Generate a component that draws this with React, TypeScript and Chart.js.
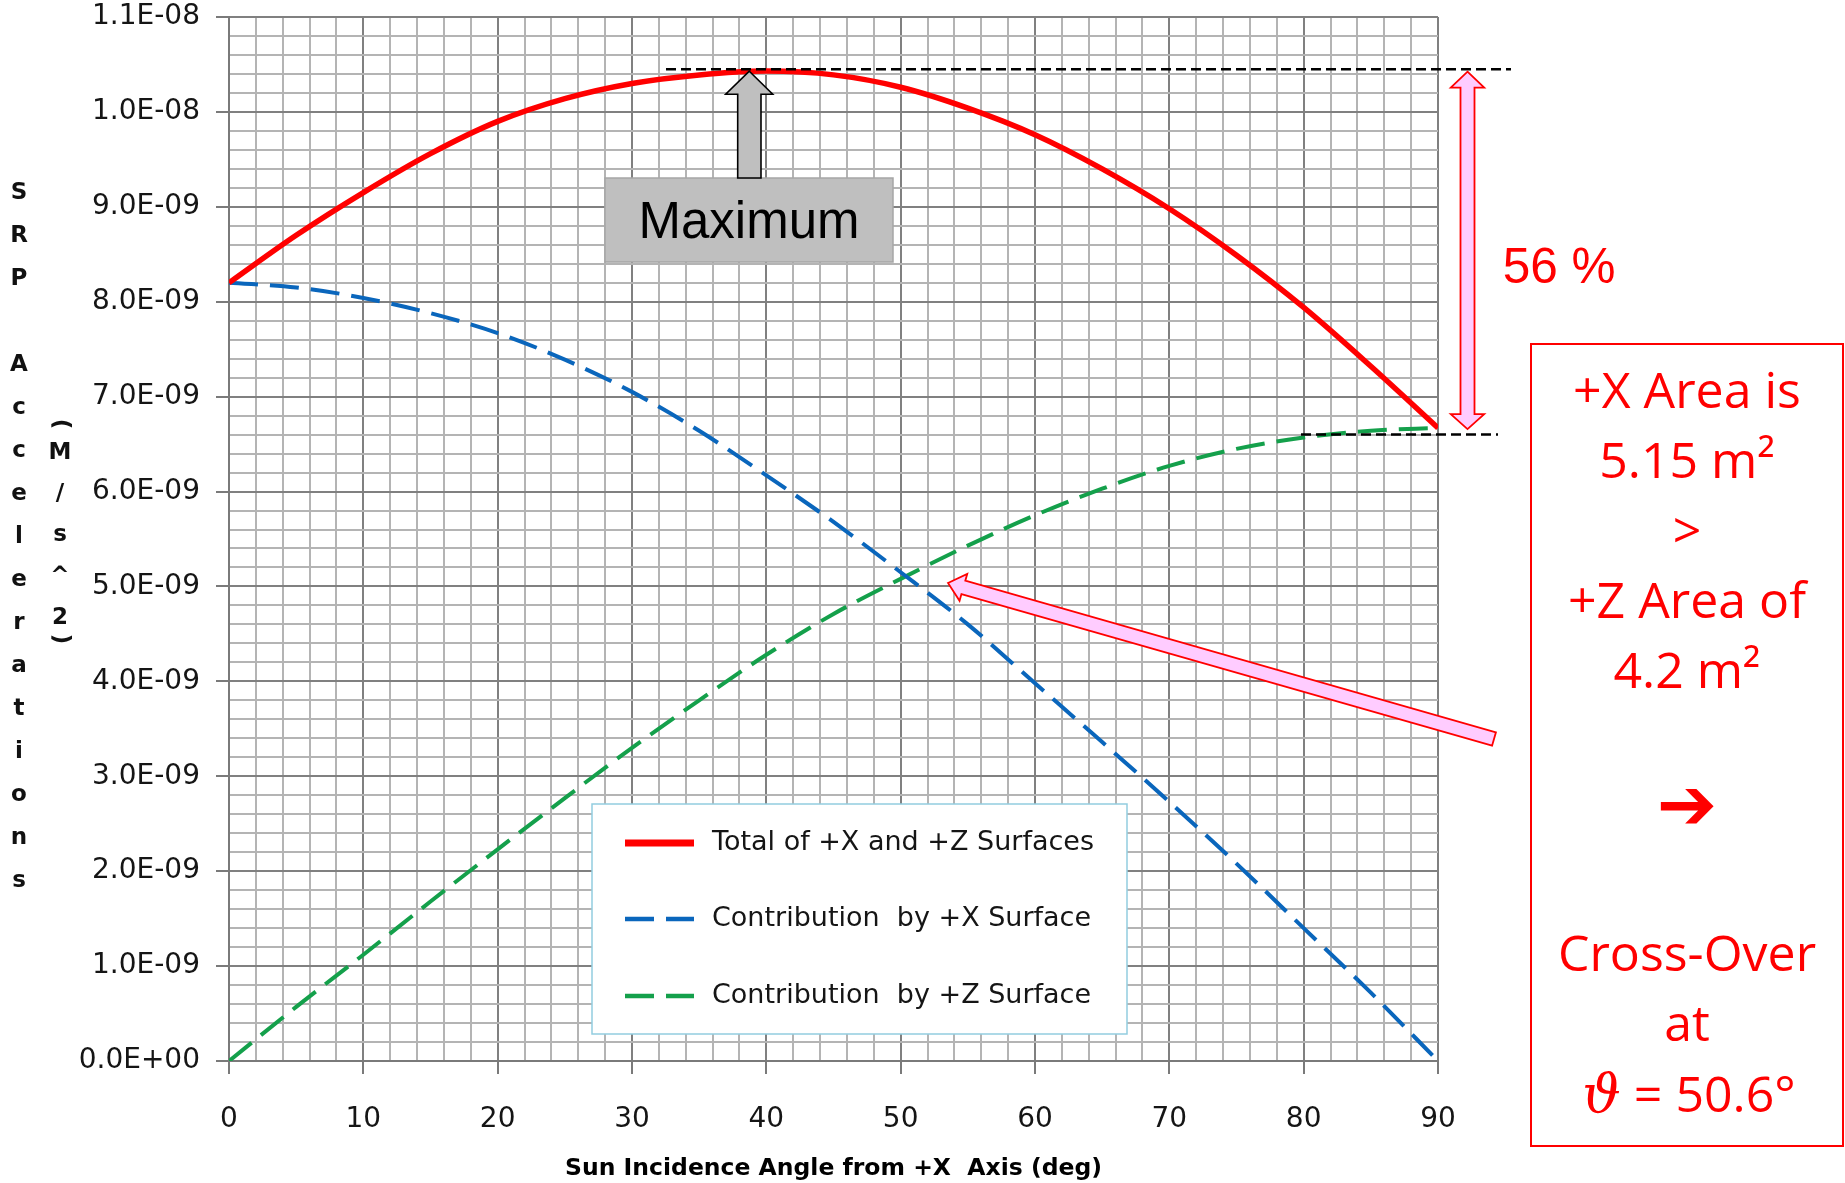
import React, { useEffect, useRef } from 'react';
import { Chart, registerables } from 'chart.js';

Chart.register(...registerables);

// ---------------- data (values in units of 1E-09 m/s^2) ----------------
const ANGLES_DEG = [0, 5, 10, 15, 20, 25, 30, 35, 40, 45, 50, 55, 60, 65, 70, 75, 80, 85, 90];
const TOTAL_E9 = [8.2, 8.7, 9.15, 9.56, 9.9, 10.14, 10.3, 10.39, 10.43, 10.39, 10.26, 10.04, 9.76, 9.4, 8.98, 8.49, 7.94, 7.32, 6.67];
const PLUS_X_E9 = [8.2, 8.15, 8.04, 7.88, 7.67, 7.39, 7.05, 6.64, 6.17, 5.68, 5.15, 4.6, 3.98, 3.36, 2.73, 2.08, 1.4, 0.72, 0.0];
const PLUS_Z_E9 = [0.0, 0.57, 1.12, 1.68, 2.23, 2.77, 3.3, 3.8, 4.28, 4.71, 5.08, 5.43, 5.75, 6.03, 6.27, 6.45, 6.57, 6.64, 6.67];
const E9 = 1e-9;

const SERIES_LABELS = ['Total of +X and +Z Surfaces', 'Contribution  by +X Surface', 'Contribution  by +Z Surface'];

// axis ticks
const X_MAJOR_TICKS = [0, 10, 20, 30, 40, 50, 60, 70, 80, 90];
const X_MINOR_PER_MAJOR = 5; // minor grid every 2 deg
const Y_MAJOR_TICKS_E9 = [0, 1, 2, 3, 4, 5, 6, 7, 8, 9, 10, 11];
const Y_MINOR_PER_MAJOR = 5; // minor grid every 0.2E-09

const X_TITLE = 'Sun Incidence Angle from +X  Axis (deg)';
const Y_TITLE_MAIN = 'SRP Accelerations';
const Y_TITLE_UNITS = ['M', '/', 's', '^', '2'];

// annotation values
const MAX_LINE_E9 = 10.45;
const MIN_LINE_E9 = 6.6;
const PERCENT_TEXT = '56 %';
const MAX_TEXT = 'Maximum';
const BOX_LINES = ['+X Area is', '5.15 m\u00B2', '>', '+Z Area of', '4.2 m\u00B2'];
const BOX_ARROW = '\u2794';
const BOX_LINES_2 = ['Cross-Over', 'at'];
const THETA = '\u03D1';
const THETA_REST = ' = 50.6\u00B0';

const RED = '#FF0000';
const BLUE = '#0A66BC';
const GREEN = '#14A04B';

function subdivide(majors: number[], per: number): number[] {
  const out: number[] = [];
  for (let i = 0; i < majors.length - 1; i++) {
    const a = majors[i];
    const b = majors[i + 1];
    for (let k = 0; k < per; k++) out.push(a + ((b - a) * k) / per);
  }
  out.push(majors[majors.length - 1]);
  return out;
}

function sci(v: number): string {
  if (Math.abs(v) < 1e-25) return '0.0E+00';
  let e = Math.floor(Math.log10(Math.abs(v)) + 1e-9);
  let m = v / Math.pow(10, e);
  if (Math.round(m * 10) / 10 >= 10) {
    e += 1;
    m /= 10;
  }
  const es = (e < 0 ? '-' : '+') + String(Math.abs(e)).padStart(2, '0');
  return m.toFixed(1) + 'E' + es;
}

const MAJOR_GRID = '#808080';
const MINOR_GRID = '#B4B4B4';

function polygon(ctx: CanvasRenderingContext2D, pts: number[][], fill: string, stroke: string, lw: number) {
  ctx.beginPath();
  ctx.moveTo(pts[0][0], pts[0][1]);
  for (let i = 1; i < pts.length; i++) ctx.lineTo(pts[i][0], pts[i][1]);
  ctx.closePath();
  ctx.fillStyle = fill;
  ctx.fill();
  ctx.lineWidth = lw;
  ctx.strokeStyle = stroke;
  ctx.lineJoin = 'miter';
  ctx.stroke();
}

const annotationPlugin = {
  id: 'srpAnnotations',
  afterDraw(chart: any) {
    const ctx: CanvasRenderingContext2D = chart.ctx;
    const ys = chart.scales.y;
    ctx.save();

    // ---- stacked y-axis title ----
    ctx.fillStyle = '#111';
    ctx.font = 'bold 23px "DejaVu Sans"';
    ctx.textAlign = 'center';
    ctx.textBaseline = 'middle';
    const chars = Y_TITLE_MAIN.split('');
    chars.forEach((c, i) => {
      if (c !== ' ') ctx.fillText(c, 19, 193 + 43 * i);
    });
    Y_TITLE_UNITS.forEach((c, i) => ctx.fillText(c, 60, 453 + 41.2 * i));
    ctx.save();
    ctx.translate(60, 424);
    ctx.rotate(Math.PI / 2);
    ctx.fillText('(', 0, 0);
    ctx.restore();
    ctx.save();
    ctx.translate(60, 639);
    ctx.rotate(Math.PI / 2);
    ctx.fillText(')', 0, 0);
    ctx.restore();

    // ---- dashed reference lines (max / end) ----
    const yMax = ys.getPixelForValue(MAX_LINE_E9 * E9);
    const yMin = ys.getPixelForValue(MIN_LINE_E9 * E9);
    ctx.strokeStyle = '#000';
    ctx.lineWidth = 2.5;
    ctx.setLineDash([10, 5]);
    ctx.beginPath();
    ctx.moveTo(666, yMax);
    ctx.lineTo(1511, yMax);
    ctx.moveTo(1301, yMin);
    ctx.lineTo(1498, yMin);
    ctx.stroke();
    ctx.setLineDash([]);

    // ---- Maximum box + arrow ----
    ctx.fillStyle = '#BFBFBF';
    ctx.fillRect(605, 178, 288, 84);
    ctx.strokeStyle = '#A6A6A6';
    ctx.lineWidth = 1.5;
    ctx.strokeRect(605, 178, 288, 84);
    polygon(
      ctx,
      [
        [749.3, yMax + 2],
        [772.7, yMax + 25],
        [761, yMax + 25],
        [761, 178],
        [737.7, 178],
        [737.7, yMax + 25],
        [725.7, yMax + 25],
      ],
      '#BFBFBF',
      '#000',
      1.6
    );
    ctx.fillStyle = '#000';
    ctx.font = '51px "Liberation Sans"';
    ctx.textAlign = 'center';
    ctx.textBaseline = 'alphabetic';
    ctx.fillText(MAX_TEXT, 749, 238);

    // ---- pink double arrow + 56 % ----
    const cx = 1467.5;
    const top = yMax + 2.5;
    const bot = yMin - 5.5;
    polygon(
      ctx,
      [
        [cx, top],
        [cx + 16.7, top + 16],
        [cx + 7, top + 16],
        [cx + 7, bot - 15],
        [cx + 16.7, bot - 15],
        [cx, bot],
        [cx - 16.7, bot - 15],
        [cx - 7, bot - 15],
        [cx - 7, top + 16],
        [cx - 16.7, top + 16],
      ],
      '#FFCCFF',
      RED,
      1.8
    );
    ctx.fillStyle = RED;
    ctx.font = '49.5px "Liberation Sans"';
    ctx.textAlign = 'left';
    ctx.fillText(PERCENT_TEXT, 1502.7, 282.7);

    // ---- long pink arrow to cross-over ----
    const T = [948, 583];
    const C = [1494, 739];
    const dx = T[0] - C[0];
    const dy = T[1] - C[1];
    const L = Math.hypot(dx, dy);
    const u = [dx / L, dy / L];
    const n = [-u[1], u[0]];
    const B = [T[0] - u[0] * 16, T[1] - u[1] * 16];
    const P = (p: number[], s: number) => [p[0] + n[0] * s, p[1] + n[1] * s];
    polygon(ctx, [T, P(B, 14), P(B, 7), P(C, 7), P(C, -7), P(B, -7), P(B, -14)], '#FFCCFF', RED, 1.8);

    // ---- right text box ----
    ctx.fillStyle = '#FFFFFF';
    ctx.fillRect(1531, 344, 312, 802);
    ctx.strokeStyle = RED;
    ctx.lineWidth = 2;
    ctx.strokeRect(1531, 344, 312, 802);
    ctx.fillStyle = RED;
    ctx.textAlign = 'center';
    ctx.textBaseline = 'alphabetic';
    ctx.font = '50px "Open Sans"';
    BOX_LINES.forEach((s, i) => ctx.fillText(s, 1687, 408 + 70 * i));
    BOX_LINES_2.forEach((s, i) => ctx.fillText(s, 1687, 971 + 70 * i));
    ctx.font = 'bold 72px "DejaVu Sans"';
    ctx.textBaseline = 'middle';
    ctx.fillText(BOX_ARROW, 1687, 810);
    ctx.textBaseline = 'alphabetic';
    // theta line
    ctx.font = 'italic 54px "DejaVu Serif"';
    const wT = ctx.measureText(THETA).width;
    ctx.font = '50px "Open Sans"';
    const wR = ctx.measureText(THETA_REST).width;
    const x0 = 1689 - (wT + wR) / 2;
    ctx.textAlign = 'left';
    ctx.font = 'italic 54px "DejaVu Serif"';
    ctx.fillText(THETA, x0, 1112);
    ctx.font = '50px "Open Sans"';
    ctx.fillText(THETA_REST, x0 + wT, 1112);

    // ---- legend ----
    const lx = 592;
    const ly = 804;
    ctx.fillStyle = '#FFFFFF';
    ctx.fillRect(lx, ly, 535, 230);
    ctx.strokeStyle = '#92CDDF';
    ctx.lineWidth = 1.5;
    ctx.strokeRect(lx, ly, 535, 230);
    const rows = [843, 919, 996];
    chart.data.datasets.forEach((ds: any, i: number) => {
      const y = rows[i];
      const dashed = ds.borderDash && ds.borderDash.length;
      ctx.strokeStyle = ds.borderColor;
      ctx.lineWidth = dashed ? 4.5 : 7;
      ctx.lineCap = 'butt';
      ctx.setLineDash(dashed ? [29, 12] : []);
      ctx.beginPath();
      ctx.moveTo(625, y);
      ctx.lineTo(694, y);
      ctx.stroke();
      ctx.setLineDash([]);
      ctx.fillStyle = '#151515';
      ctx.font = '27px "DejaVu Sans"';
      ctx.textAlign = 'left';
      ctx.textBaseline = 'middle';
      ctx.fillText(ds.label, 712, y);
    });

    ctx.restore();
  },
};

export default function App() {
  const canvasRef = useRef<HTMLCanvasElement | null>(null);

  useEffect(() => {
    const canvas = canvasRef.current;
    if (!canvas) return;

    const toPts = (vals: number[]) => ANGLES_DEG.map((a, i) => ({ x: a, y: vals[i] * E9 }));
    const xTicks = subdivide(X_MAJOR_TICKS, X_MINOR_PER_MAJOR);
    const yTicks = subdivide(Y_MAJOR_TICKS_E9, Y_MINOR_PER_MAJOR).map((v) => v * E9);
    const isMajor = (ctx: any) => ctx.index % X_MINOR_PER_MAJOR === 0;

    const chart = new Chart(canvas, {
      type: 'line',
      data: {
        datasets: [
          {
            label: SERIES_LABELS[0],
            data: toPts(TOTAL_E9),
            borderColor: RED,
            backgroundColor: RED,
            borderWidth: 5.5,
            borderDash: [],
            pointRadius: 0,
            cubicInterpolationMode: 'monotone',
          },
          {
            label: SERIES_LABELS[1],
            data: toPts(PLUS_X_E9),
            borderColor: BLUE,
            backgroundColor: BLUE,
            borderWidth: 4,
            borderDash: [29, 12],
            pointRadius: 0,
            cubicInterpolationMode: 'monotone',
          },
          {
            label: SERIES_LABELS[2],
            data: toPts(PLUS_Z_E9),
            borderColor: GREEN,
            backgroundColor: GREEN,
            borderWidth: 4,
            borderDash: [29, 12],
            pointRadius: 0,
            cubicInterpolationMode: 'monotone',
          },
        ],
      },
      options: {
        responsive: false,
        animation: false,
        devicePixelRatio: 1,
        events: [],
        layout: { padding: { left: 0, right: 407, top: 17, bottom: 0 } },
        plugins: {
          legend: { display: false },
          tooltip: { enabled: false },
          title: { display: false },
        },
        scales: {
          x: {
            type: 'linear',
            min: 0,
            max: 90,
            afterBuildTicks: (s: any) => {
              s.ticks = xTicks.map((v) => ({ value: v }));
            },
            afterFit: (s: any) => {
              s.height = 122;
              s.paddingLeft = 0;
              s.paddingRight = 0;
            },
            ticks: {
              autoSkip: false,
              maxRotation: 0,
              minRotation: 0,
              padding: 29,
              color: '#151515',
              font: { family: 'DejaVu Sans', size: 28 },
              callback: (v: any, i: number) => (i % X_MINOR_PER_MAJOR === 0 ? String(Math.round(Number(v))) : ''),
            },
            grid: {
              color: (c: any) => (isMajor(c) ? MAJOR_GRID : MINOR_GRID),
              lineWidth: 2,
              tickLength: 13,
              tickWidth: 2,
              tickColor: (c: any) => (isMajor(c) ? '#7A7A7A' : 'rgba(0,0,0,0)'),
            },
            border: { color: '#7A7A7A', width: 2 },
            title: {
              display: true,
              text: X_TITLE,
              color: '#000',
              font: { family: 'DejaVu Sans', size: 23.5, weight: 'bold' },
              padding: { top: 0, bottom: 0 },
            },
          },
          y: {
            type: 'linear',
            min: 0,
            max: 11 * E9,
            afterBuildTicks: (s: any) => {
              s.ticks = yTicks.map((v) => ({ value: v }));
            },
            afterFit: (s: any) => {
              s.width = 229;
              s.paddingTop = 0;
              s.paddingBottom = 0;
            },
            ticks: {
              autoSkip: false,
              padding: 16,
              color: '#151515',
              font: { family: 'DejaVu Sans', size: 28 },
              callback: (v: any, i: number) => (i % Y_MINOR_PER_MAJOR === 0 ? sci(Number(v)) : ''),
            },
            grid: {
              color: (c: any) => (isMajor(c) ? MAJOR_GRID : MINOR_GRID),
              lineWidth: 2,
              tickLength: 13,
              tickWidth: 2,
              tickColor: (c: any) => (isMajor(c) ? '#7A7A7A' : 'rgba(0,0,0,0)'),
            },
            border: { color: '#7A7A7A', width: 2 },
            title: { display: false },
          },
        },
      },
      plugins: [annotationPlugin],
    } as any);

    return () => chart.destroy();
  }, []);

  return (
    <div style={{ position: 'fixed', left: 0, top: 0, width: 1845, height: 1183, background: '#fff', overflow: 'hidden' }}>
      <canvas ref={canvasRef} width={1845} height={1183} style={{ display: 'block', width: 1845, height: 1183 }} />
    </div>
  );
}
